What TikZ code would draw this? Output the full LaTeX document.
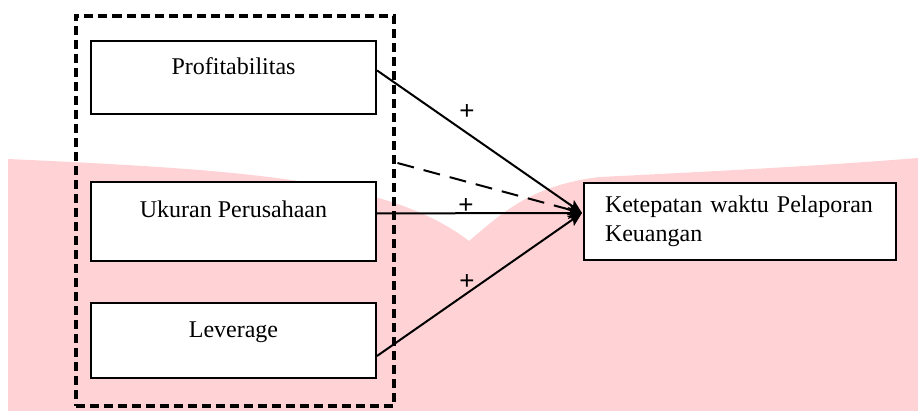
\documentclass[tikz,border=0pt]{standalone}
\usepackage{fontspec}
\setmainfont{Liberation Serif}
\newfontfamily\plusfont{Liberation Sans}
\usetikzlibrary{arrows.meta,calc}

\tikzset{every picture/.style={line width=1pt}}
\tikzset{
	varbox/.style={draw, line width=1pt, inner sep=0pt, minimum width=142.5pt, anchor=north, font=\fontsize{12}{14}\selectfont},
	groupbox/.style={draw, line width=2pt, dash pattern=on 4.5pt off 2.5pt, inner sep=0pt, minimum width=159pt, minimum height=195pt},
	arr/.style={line width=1pt, -{Stealth[length=7pt,width=6pt,inset=1.5pt]}},
	plus/.style={font=\plusfont\fontsize{13}{15}\selectfont, inner sep=0pt}}

\begin{document}
\begin{tikzpicture}[x=0.5pt,y=0.5pt,yscale=-1,xscale=1]
	\useasboundingbox (0,0) rectangle (918,411);

	%Shape: Background
	\fill [fill={rgb, 255:red, 255; green, 211; blue, 213 }] (8,159) .. controls (250,170) and (390,180) .. (469,241) .. controls (500,215) and (530,185) .. (600,177) .. controls (700,172) and (820,166) .. (918,158) -- (918,411) -- (8,411) -- cycle ;

	%Shape: Rectangle
	\node [groupbox] (grp) at (234.5,211) {};
	%Shape: Rectangle
	\node [varbox, fill=white, text height=17pt, text depth=19.5pt] (prof) at (233.5,40) {Profitabilitas};
	%Shape: Rectangle
	\node [varbox, fill=white, text height=18pt, text depth=21.5pt] (ukur) at (233.5,181) {Ukuran Perusahaan};
	%Shape: Rectangle
	\node [varbox, fill=white, text height=17.5pt, text depth=20pt] (lev) at (233.5,302) {Leverage};
	%Shape: Rectangle
	\node [draw, fill=white, line width=1pt, anchor=north west, text width=135pt, inner xsep=10.5pt, inner ysep=0pt, minimum height=38.5pt, align=left, font=\fontsize{12}{14.5}\selectfont] (tgt) at (583,182) {Ketepatan waktu Pelaporan\\Keuangan};

	\coordinate (hub) at (582,213);

	%Straight Lines
	\draw [arr] (prof.mid east) -- (hub) ;
	%Straight Lines
	\draw [arr, dash pattern=on 8.5pt off 5pt] ($(grp.east)+(2,-48)$) -- (hub) ;
	%Straight Lines
	\draw [arr] (ukur.mid east) -- (hub) ;
	%Straight Lines
	\draw [arr] ($(lev.east)+(0,15.5)$) -- (hub) ;

	% Text Node
	\node [plus] (p1) at (467,112) {+};
	% Text Node
	\node [plus] (p2) at (466,206) {+};
	% Text Node
	\node [plus] (p3) at (467,282) {+};

\end{tikzpicture}
\end{document}
